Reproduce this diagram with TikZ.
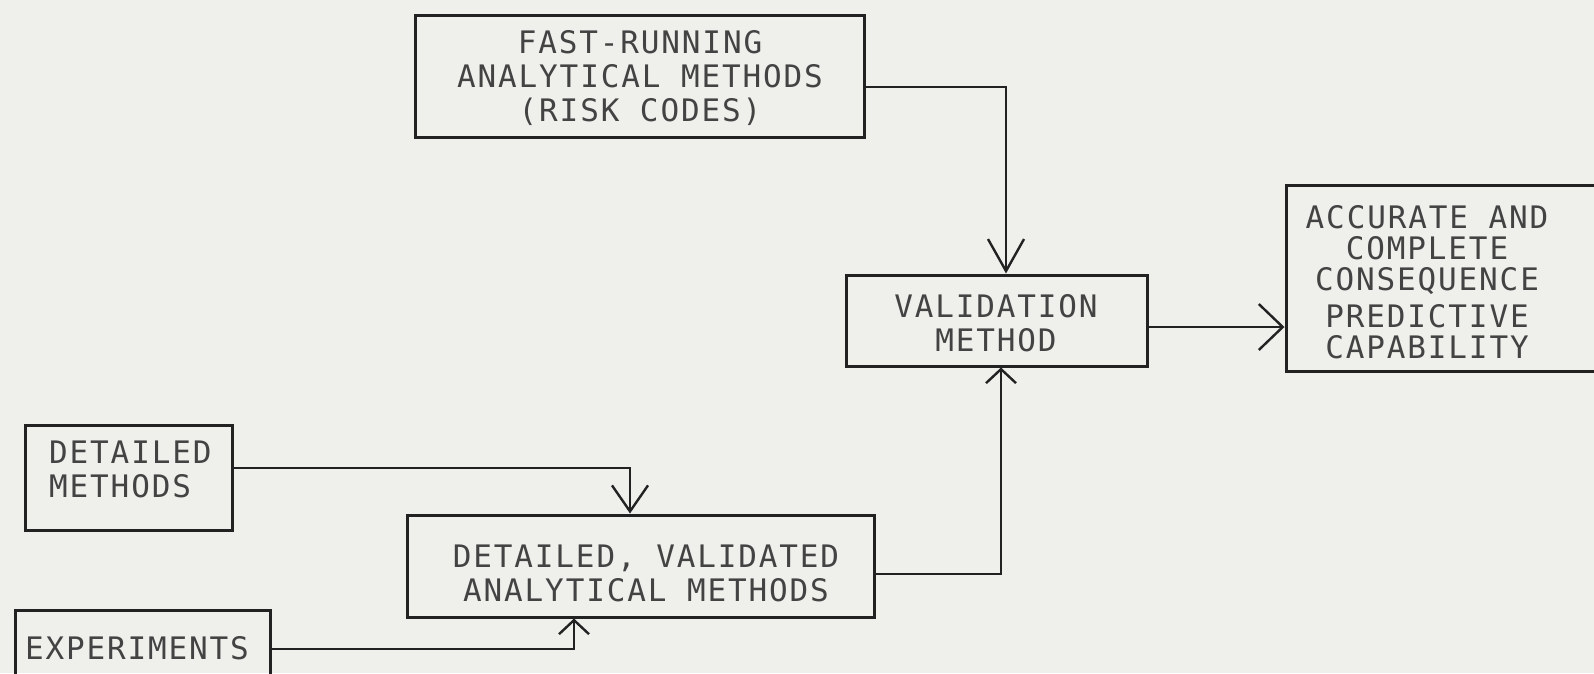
\documentclass[tikz,border=0pt]{standalone}
\usepackage{fontspec}
\newfontfamily\typefont[LetterSpace=6]{DejaVu Sans Mono}
\usetikzlibrary{arrows.meta}
\definecolor{paper}{RGB}{239,239,236}
\definecolor{ink}{RGB}{34,34,34}
\tikzset{
  blockbox/.style={draw=ink, line width=3pt, inner sep=0pt, rectangle},
  blocktext/.style={text=ink!85, font=\typefont\fontsize{31}{34}\selectfont, align=center, inner sep=0pt},
  flowline/.style={draw=ink, line width=2.6pt,
    -{Straight Barb[length=#1, width=36pt, line width=2.4pt]}},
  flowline/.default=28pt,
  sideline/.style={draw=ink, line width=2.6pt,
    -{Straight Barb[length=24pt, width=46pt, line width=2.4pt]}},
  upline/.style={draw=ink, line width=2.6pt,
    -{Straight Barb[length=14pt, width=30pt, line width=2.4pt]}},
}
\begin{document}
\begin{tikzpicture}[x=1pt, y=-1pt]
  % page and background
  \useasboundingbox (0,0) rectangle (1594,673);
  \fill[paper] (0,0) rectangle (1594,673);
  \clip (0,0) rectangle (1594,673);

  % blocks
  \node[blockbox, minimum width=449pt, minimum height=122pt] (fast) at (639.5,76) {};
  \node[blocktext] (fasttext) at (640,78)
    {FAST-RUNNING\\ANALYTICAL METHODS\\(RISK CODES)};
  \node[blockbox, minimum width=301pt, minimum height=91pt] (valid) at (996.5,320.5) {};
  \node[blocktext] (validtext) at (996,323) {VALIDATION\\METHOD};
  \node[blockbox, minimum width=334pt, minimum height=186pt] (acc) at (1453,278) {};
  \node[blocktext, font=\typefont\fontsize{31}{31}\selectfont] (acctext) at (1427,282)
    {ACCURATE AND\\COMPLETE\\CONSEQUENCE\\[6pt]PREDICTIVE\\CAPABILITY};
  \node[blockbox, minimum width=207pt, minimum height=105pt] (detail) at (128.5,477.5) {};
  \node[blocktext, align=left, anchor=west] (detailtext) at (49,469) {DETAILED\\METHODS};
  \node[blockbox, minimum width=467pt, minimum height=102pt] (dvam) at (640.5,566) {};
  \node[blocktext] (dvamtext) at (646,573) {DETAILED, VALIDATED\\ANALYTICAL METHODS};
  \node[blockbox, minimum width=255pt, minimum height=66pt] (exper) at (142.5,643) {};
  \node[blocktext] (expertext) at (137,648) {EXPERIMENTS};

  % connectors
  \draw[flowline=32pt] ([yshift=-11pt]fast.east) -| ([xshift=9.5pt]valid.north);
  \draw[sideline] ([yshift=-6.5pt]valid.east) -- ([yshift=-6.5pt]valid.east -| acc.west);
  \draw[flowline=26pt] ([yshift=9.5pt]detail.east) -| ([xshift=-10.5pt]dvam.north);
  \draw[upline] ([yshift=-8pt]dvam.east) -| ([xshift=4.5pt]valid.south);
  \draw[upline] ([yshift=-6pt]exper.east) -| ([xshift=-66.5pt]dvam.south);
\end{tikzpicture}
\end{document}
